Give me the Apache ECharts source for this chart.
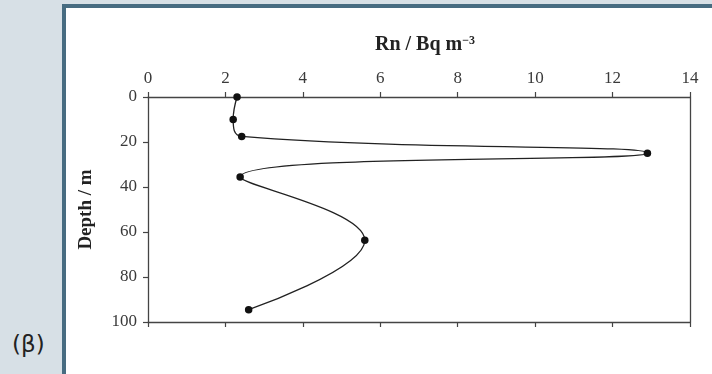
<!DOCTYPE html>
<html>
<head>
<meta charset="utf-8">
<script src="https://cdn.jsdelivr.net/npm/echarts@6/dist/echarts.min.js"></script>
<style>
  html, body { margin: 0; padding: 0; background: #d7e0e6; }
  #wrap { position: relative; width: 712px; height: 374px; overflow: hidden; background: #d7e0e6; }
  #panel { position: absolute; left: 62px; top: 4px; width: 700px; height: 420px;
           background: #ffffff; border: 4px solid #476c81; box-sizing: border-box; }
  #tag { position: absolute; left: 12px; top: 331px; font-family: "DejaVu Sans", sans-serif;
         font-size: 23px; color: #222; }
  #chart { position: absolute; left: 0; top: 0; width: 712px; height: 374px; }
</style>
</head>
<body>
<div id="wrap">
  <div id="panel"></div>
  <div id="tag">(β)</div>
  <div id="chart"></div>
</div>
<script>
// Radon concentration profile against depth
const rnValues = [2.3, 2.2, 2.42, 12.9, 2.38, 5.6, 2.6];
const depths = [0, 10, 17.5, 25, 35.6, 63.7, 94.5];
const xTicks = [0, 2, 4, 6, 8, 10, 12, 14];
const yTicks = [0, 20, 40, 60, 80, 100];

const chart = echarts.init(document.getElementById('chart'), null, { renderer: 'canvas' });
const serif = '"Liberation Serif", "Times New Roman", serif';
const tickFont = { fontFamily: serif, fontSize: 17, color: '#3a3a3a' };
const axisLine = { show: true, onZero: false, lineStyle: { color: '#444', width: 1.3 } };
const tick = { show: true, inside: false, length: 5, lineStyle: { color: '#444', width: 1.2 } };

chart.setOption({
  animation: false,
  backgroundColor: 'transparent',
  grid: { left: 148, right: 22, top: 97, bottom: 52, containLabel: false },
  title: {
    text: 'Rn / Bq m{sup|−3}',
    left: 420, top: 30, textAlign: 'center',
    textStyle: {
      fontFamily: serif, fontSize: 20, fontWeight: 'bold', color: '#222',
      rich: { sup: { fontFamily: serif, fontSize: 12, fontWeight: 'bold', color: '#222', verticalAlign: 'top', lineHeight: 12, padding: [0, 0, 9, 0] } }
    }
  },
  xAxis: [
    {
      type: 'value', position: 'top', min: xTicks[0], max: xTicks[xTicks.length - 1], interval: 2,
      axisLine: axisLine, axisTick: tick,
      axisLabel: Object.assign({ margin: 10 }, tickFont),
      splitLine: { show: false }
    },
    {
      type: 'value', position: 'bottom', min: xTicks[0], max: xTicks[xTicks.length - 1], interval: 2,
      axisLine: axisLine, axisTick: tick,
      axisLabel: { show: false },
      splitLine: { show: false }
    }
  ],
  yAxis: [
    {
      type: 'value', inverse: true, min: yTicks[0], max: yTicks[yTicks.length - 1], interval: 20,
      name: 'Depth / m', nameLocation: 'middle', nameGap: 52, nameRotate: 90,
      nameTextStyle: { fontFamily: serif, fontSize: 19, fontWeight: 'bold', color: '#222' },
      axisLine: axisLine, axisTick: tick,
      axisLabel: Object.assign({ margin: 11 }, tickFont),
      splitLine: { show: false }
    },
    {
      type: 'value', position: 'right', inverse: true, min: 0, max: 100, interval: 20,
      axisLine: axisLine, axisTick: { show: false }, axisLabel: { show: false }, splitLine: { show: false }
    }
  ],
  series: [{
    type: 'line',
    xAxisIndex: 0, yAxisIndex: 0,
    data: rnValues.map((v, i) => [v, depths[i]]),
    smooth: 0.45,
    symbol: 'circle', symbolSize: 7.5,
    itemStyle: { color: '#111' },
    lineStyle: { color: '#222', width: 1.3 }
  }]
});
</script>
</body>
</html>
